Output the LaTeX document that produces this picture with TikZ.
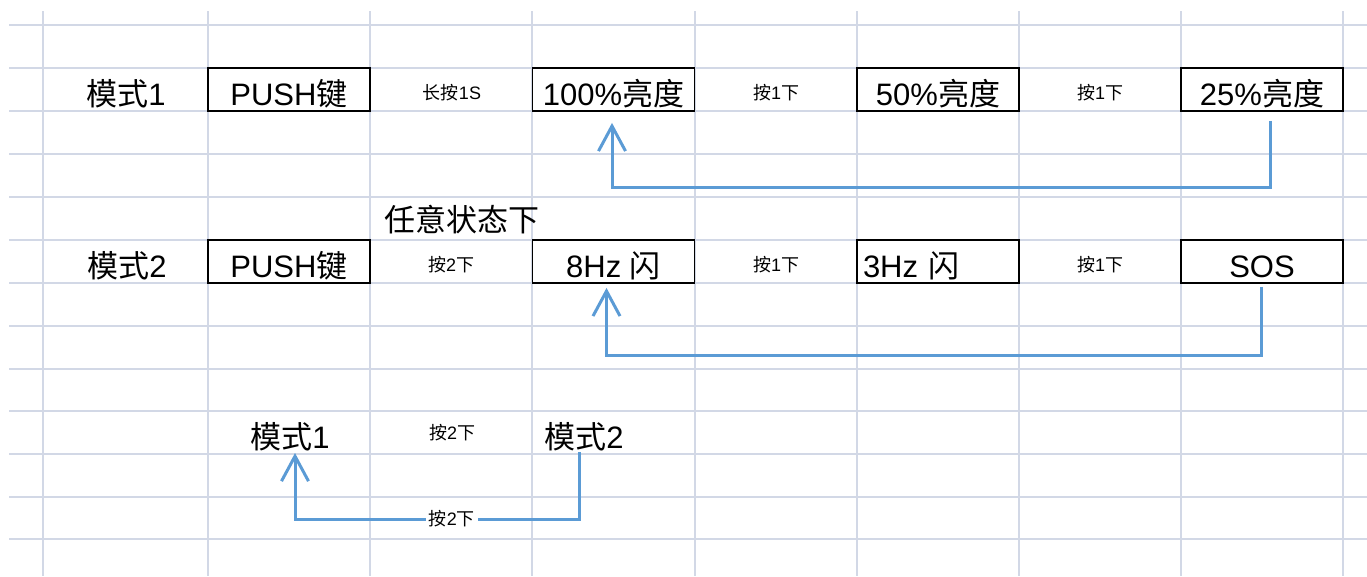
\documentclass[tikz,border=0pt]{standalone}
\usepackage{fontspec}
\setmainfont{Liberation Sans}
\newfontfamily\cjk{Noto Sans CJK SC}
\usepackage{xcolor}
\usetikzlibrary{arrows.meta}

\definecolor{gridline}{RGB}{210,216,230}
\definecolor{flowblue}{RGB}{91,155,213}

\newcommand{\zh}[1]{{\cjk #1}}

\begin{document}
\begin{tikzpicture}[x=1pt, y=-1pt,
    big/.style={font=\fontsize{31}{31}\selectfont, inner sep=0pt, anchor=base},
    small/.style={font=\fontsize{18}{18}\selectfont, inner sep=0pt, anchor=base},
    cell/.style={draw=black, line width=1.8pt, minimum width=162pt, minimum height=43pt,
        inner xsep=0pt, inner ysep=0pt, text height=37pt, text depth=6pt,
        font=\fontsize{31}{31}\selectfont},
    flow/.style={draw=flowblue, line width=3pt, -{Straight Barb[length=25pt, width=27pt]}}]
    \useasboundingbox (0,0) rectangle (1367,576);

    % Sheet grid
    \foreach \gx in {43,208,370,532,695,857,1019,1181,1343}
        \draw[gridline, line width=1.6pt] (\gx,11) -- (\gx,576);
    \foreach \gy in {25,68,111,154,197,240,283,326,369,411,454,497,539}
        \draw[gridline, line width=1.6pt] (9,\gy) -- (1367,\gy);

    % Mode 1 row
    \node[big] (mode1) at (126,105) {\zh{模式}1};
    \node[cell] (push1) at (289,89.5) {PUSH\zh{键}};
    \node[small] (hold1) at (452,99) {\zh{长按}1S};
    \node[cell] (b100) at (613.5,89.5) {100\%\zh{亮度}};
    \node[small] (next1a) at (776,99) {\zh{按}1\zh{下}};
    \node[cell] (b50) at (938,89.5) {50\%\zh{亮度}};
    \node[small] (next1b) at (1100,99) {\zh{按}1\zh{下}};
    \node[cell] (b25) at (1262,89.5) {25\%\zh{亮度}};
    \draw[flow] ([shift={(8,9)}]b25.south) -- ++(0,67) -| ([shift={(-1.5,11)}]b100.south);

    % Mode 2 row
    \node[big] (anystate) at (462,231) {\zh{任意状态下}};
    \node[big] (mode2) at (127,277) {\zh{模式}2};
    \node[cell] (push2) at (289,261.5) {PUSH\zh{键}};
    \node[small] (press2) at (451,271) {\zh{按}2\zh{下}};
    \node[cell] (f8) at (613.5,261.5) {8Hz \zh{闪}};
    \node[small] (next2a) at (776,271) {\zh{按}1\zh{下}};
    \node[cell, text width=150pt, align=left] (f3) at (938,261.5) {3Hz \zh{闪}};
    \node[small] (next2b) at (1100,271) {\zh{按}1\zh{下}};
    \node[cell] (sos) at (1262,261.5) {SOS};
    \draw[flow] ([shift={(-1,3)}]sos.south) -- ++(0,69) -| ([shift={(-7,4)}]f8.south);

    % Switching modes
    \node[big] (mode1b) at (290,448) {\zh{模式}1};
    \node[small] (press2b) at (452,439) {\zh{按}2\zh{下}};
    \node[big] (mode2b) at (584,448) {\zh{模式}2};
    \draw[flow] ([shift={(-5,4)}]mode2b.base) -- ++(0,67)
        -| node[small, pos=0.224, anchor=center, fill=white, inner xsep=3pt] (press2c) {\zh{按}2\zh{下}}
        ([shift={(5,5)}]mode1b.base);

\end{tikzpicture}
\end{document}
